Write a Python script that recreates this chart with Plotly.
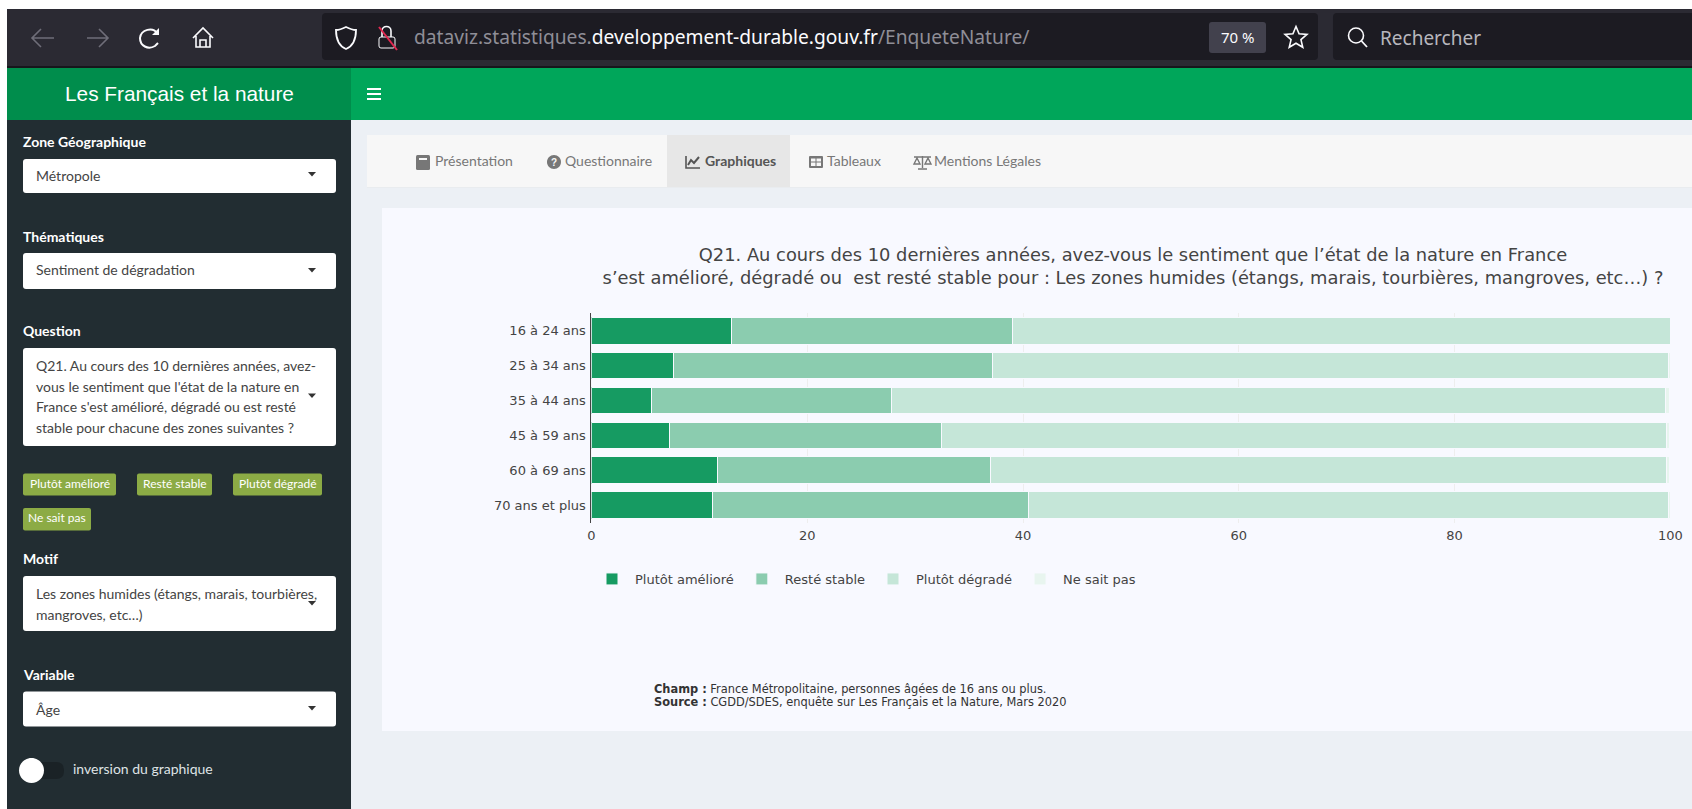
import math
import plotly.graph_objects as go

W, H = 1692, 809

# ---- data -------------------------------------------------------------
categories = ["16 à 24 ans", "25 à 34 ans", "35 à 44 ans", "45 à 59 ans", "60 à 69 ans", "70 ans et plus"]
plutot_ameliore = [13.0, 7.6, 5.6, 7.2, 11.7, 11.2]
reste_stable = [26.0, 29.6, 22.2, 25.2, 25.3, 29.3]
plutot_degrade = [61.0, 62.6, 71.7, 67.2, 62.6, 59.3]
ne_sait_pas = [0.0, 0.2, 0.4, 0.3, 0.3, 0.2]
series_names = ["Plutôt amélioré", "Resté stable", "Plutôt dégradé", "Ne sait pas"]
series_colors = ["#169B62", "#8BCCAF", "#C5E6D8", "#E8F5EF"]
x_ticks = [0, 20, 40, 60, 80, 100]

title_lines = [
    "Q21. Au cours des 10 dernières années, avez-vous le sentiment que l’état de la nature en France",
    "s’est amélioré, dégradé ou  est resté stable pour : Les zones humides (étangs, marais, tourbières, mangroves, etc…) ?",
]
footer_lines = [
    "<b>Champ :</b> France Métropolitaine, personnes âgées de 16 ans ou plus.",
    "<b>Source :</b> CGDD/SDES, enquête sur Les Français et la Nature, Mars 2020",
]

# ---- page furniture helpers ------------------------------------------
UI = "Lato"
shapes, notes = [], []


def fx(x):
    return x / W


def fy(y):
    return 1 - y / H


def rect(x0, y0, x1, y1, color, layer="below"):
    shapes.append(dict(type="rect", xref="paper", yref="paper", x0=fx(x0), x1=fx(x1), y0=fy(y0), y1=fy(y1),
                       fillcolor=color, line_width=0, layer=layer))


def path(cmds, fill=None, stroke=None, width=1.5):
    parts = []
    for c in cmds:
        if isinstance(c, str):
            parts.append(c)
        else:
            parts.append(f"{fx(c[0]):.6f},{fy(c[1]):.6f}")
    shapes.append(dict(type="path", xref="paper", yref="paper", path=" ".join(parts), fillcolor=fill or "rgba(0,0,0,0)",
                       line=dict(color=stroke or "rgba(0,0,0,0)", width=width if stroke else 0), layer="below"))


def rrect(x0, y0, x1, y1, r, fill, stroke=None):
    path(["M", (x0 + r, y0), "L", (x1 - r, y0), "Q", (x1, y0), (x1, y0 + r), "L", (x1, y1 - r), "Q", (x1, y1), (x1 - r, y1),
          "L", (x0 + r, y1), "Q", (x0, y1), (x0, y1 - r), "L", (x0, y0 + r), "Q", (x0, y0), (x0 + r, y0), "Z"], fill, stroke, 1)


def circle(cx, cy, r, fill=None, stroke=None, width=1.5):
    k = 0.5523 * r
    path(["M", (cx + r, cy), "C", (cx + r, cy + k), (cx + k, cy + r), (cx, cy + r), "C", (cx - k, cy + r), (cx - r, cy + k), (cx - r, cy),
          "C", (cx - r, cy - k), (cx - k, cy - r), (cx, cy - r), "C", (cx + k, cy - r), (cx + r, cy - k), (cx + r, cy), "Z"], fill, stroke, width)


def text(x, y, s, size, color, font=UI, anchor="left"):
    notes.append(dict(x=fx(x), y=fy(y - 1.3), xref="paper", yref="paper", text=s, showarrow=False, xanchor=anchor, yanchor="middle",
                      align="left", borderpad=0, font=dict(size=size, color=color, family=font)))


def caret(x, y):
    path(["M", (x - 4, y - 2), "L", (x + 4, y - 2), "L", (x, y + 2.5), "Z"], "#333333")


# ---- browser toolbar --------------------------------------------------
rect(7, 9, W, 67, "#2B2A33")
rect(7, 66, W, 68, "#17161c")
rrect(322, 13, 1318, 60, 4, "#1C1B22")
rrect(1333, 13, W + 6, 60, 4, "#1C1B22")
for x0, x1, d in [(32, 54, -1), (87, 108, 1)]:
    tip, tail = (x0, x1) if d < 0 else (x1, x0)
    path(["M", (tail, 38), "L", (tip, 38), "M", (tip - d * 9, 29), "L", (tip, 38), "L", (tip - d * 9, 47)], None, "#6f6e79", 1.6)
# reload
path(["M", (157, 33), "C", (153, 27), (141, 29), (140, 38), "C", (140, 46), (148, 50), (155, 46), "L", (158, 43)], None, "#fbfbfe", 2)
path(["M", (159, 28), "L", (159, 35), "L", (152, 35), "Z"], "#fbfbfe")
# home
path(["M", (193, 38), "L", (203, 28), "L", (213, 38), "M", (196, 36), "L", (196, 47), "L", (210, 47), "L", (210, 36),
      "M", (200, 47), "L", (200, 40), "L", (206, 40), "L", (206, 47)], None, "#fbfbfe", 1.6)
# shield
path(["M", (346, 27), "C", (350, 29), (353, 30), (356, 30), "C", (356, 40), (353, 46), (346, 49), "C", (339, 46), (336, 40), (336, 30),
      "C", (339, 30), (342, 29), (346, 27), "Z"], None, "#fbfbfe", 1.8)
# lock
rrect(379, 37, 395, 48, 2, None, "#fbfbfe")
path(["M", (382, 37), "L", (382, 31), "C", (382, 25), (391, 25), (391, 31), "L", (391, 37)], None, "#fbfbfe", 1.6)
path(["M", (379, 27), "L", (397, 50)], None, "#E22850", 2)
text(412.5, 38, ("<span style='color:#8f8e97'>dataviz.statistiques.</span>"
                 "<span style='color:#fbfbfe'>developpement-durable.gouv.fr</span>"
                 "<span style='color:#8f8e97'>/EnqueteNature/</span>"), 19.2, "#fbfbfe", "Noto Sans")
rrect(1209, 22, 1266, 53, 3, "#42414D")
text(1237.5, 38.5, "70 %", 15, "#fbfbfe", "Noto Sans", "center")
star = ["M"]
for i in range(10):
    r = 11.5 if i % 2 == 0 else 5.2
    a = -math.pi / 2 + i * math.pi / 5
    star += [(1296 + r * math.cos(a), 38 + r * math.sin(a))] + (["L"] if i < 9 else ["Z"])
path(star, None, "#fbfbfe", 1.6)
circle(1356, 35.5, 7.5, None, "#fbfbfe", 1.6)
path(["M", (1361.5, 41), "L", (1367, 47)], None, "#fbfbfe", 1.8)
text(1378.5, 39, "Rechercher", 19, "#b8b7bd", "Noto Sans")

# ---- dashboard header -------------------------------------------------
rect(7, 68, 351, 120, "#008D4C")
rect(351, 68, W, 120, "#00A65A")
text(179, 95, "Les Français et la nature", 20.8, "#ffffff", "Liberation Sans", "center")
for y in (89, 94, 99):
    rect(367, y - 1, 381, y + 1, "#ffffff")

# ---- sidebar ----------------------------------------------------------
rect(7, 120, 351, H, "#222D32")
rect(351, 120, W, H, "#ECF0F5")
LAB = "#ffffff"
INK = "#444444"
text(22, 143, "<b>Zone Géographique</b>", 14, LAB)
rrect(23, 159, 336, 193, 3, "#ffffff")
text(35, 177, "Métropole", 14, INK)
caret(312, 174)

text(22, 238, "<b>Thématiques</b>", 14, LAB)
rrect(23, 253, 336, 289, 3, "#ffffff")
text(35, 271, "Sentiment de dégradation", 14, INK)
caret(312, 270)

text(22, 332, "<b>Question</b>", 14, LAB)
rrect(23, 348, 336, 446, 3, "#ffffff")
for y, s in [(367, "Q21. Au cours des 10 dernières années, avez-"), (387.5, "vous le sentiment que l'état de la nature en"),
             (408, "France s'est amélioré, dégradé ou est resté"), (429, "stable pour chacune des zones suivantes ?")]:
    text(35, y, s, 14, INK)
caret(312, 395.5)

for x0, y0, x1, y1, s in [(23, 473.5, 116, 495.5, "Plutôt amélioré"), (137, 473.5, 212, 495.5, "Resté stable"),
                          (233, 473.5, 322, 495.5, "Plutôt dégradé"), (23, 508, 91, 530.5, "Ne sait pas")]:
    rrect(x0, y0, x1, y1, 2, "#8CAB45")
    text((x0 + x1) / 2, (y0 + y1) / 2, s, 12, "#ffffff", UI, "center")

text(22, 560, "<b>Motif</b>", 14, LAB)
rrect(23, 576, 336, 631, 3, "#ffffff")
text(35, 595, "Les zones humides (étangs, marais, tourbières,", 14, INK)
text(35, 616, "mangroves, etc…)", 14, INK)
caret(312, 603)

text(22, 676, "<b>Variable</b>", 14, LAB)
rrect(23, 691.5, 336, 726.5, 3, "#ffffff")
text(35, 710.5, "Âge", 14, INK)
caret(312, 708)

rrect(24, 762, 64, 779, 8, "#1A2226")
circle(31.5, 770.5, 12.5, "#ffffff")
text(72, 770, "inversion du graphique", 14, "#dfe3e5")

# ---- tabs -------------------------------------------------------------
rect(367, 135, W, 187, "#F7F7F7")
rect(367, 187, W, 188, "#E9ECEF")
rect(667, 135, 790, 187, "#E7E7E7")
TAB = "#777777"
TAB_ON = "#555555"
text(434, 162, "Présentation", 14, TAB)
text(564, 162, "Questionnaire", 14, TAB)
text(704, 162, "<b>Graphiques</b>", 14, TAB_ON)
text(826, 162, "Tableaux", 14, TAB)
text(933, 162, "Mentions Légales", 14, TAB)
# book
rrect(416, 155, 430, 170, 1.5, "#777777")
rect(419, 158, 427, 160, "#F7F7F7")
# question circle
circle(554, 162, 7, "#777777")
text(554, 163.3, "<b>?</b>", 10, "#F7F7F7", "Liberation Sans", "center")
# chart
path(["M", (686, 156), "L", (686, 168), "L", (700, 168)], None, "#555555", 1.6)
path(["M", (688, 165), "L", (691, 160), "L", (694, 163), "L", (699, 157)], None, "#555555", 2)
# table
rrect(809, 156, 823, 168, 1, "#777777")
for x0, x1 in [(811, 815.5), (816.5, 821)]:
    for y0, y1 in [(158.5, 161.5), (162.5, 166)]:
        rect(x0, y0, x1, y1, "#F7F7F7")
# scales
path(["M", (922.5, 156), "L", (922.5, 168), "M", (918, 169), "L", (927, 169), "M", (914, 157), "L", (931, 157),
      "M", (917, 158), "L", (914, 164), "L", (920, 164), "Z", "M", (928, 158), "L", (925, 164), "L", (931, 164), "Z"], None, "#777777", 1.4)

# ---- chart card -------------------------------------------------------
rect(382, 208, W, 731, "#F8F9FF")

# ---- chart ------------------------------------------------------------
fig = go.Figure()
for name, vals, col in zip(series_names, [plutot_ameliore, reste_stable, plutot_degrade, ne_sait_pas], series_colors):
    fig.add_trace(go.Bar(y=categories, x=vals, name=name, orientation="h", marker=dict(color=col, line=dict(color="#F8F9FF", width=1))))

fig.update_layout(
    width=W, height=H, autosize=False, margin=dict(l=0, r=0, t=0, b=0, pad=0, autoexpand=False),
    paper_bgcolor="#ffffff", plot_bgcolor="rgba(0,0,0,0)", barmode="stack", bargap=0.235,
    font=dict(family="DejaVu Sans", size=13, color="#444444"),
    title=dict(text="<br>".join(title_lines), x=1133 / W, xanchor="center", xref="paper", y=fy(261), yanchor="top", yref="paper",
               font=dict(size=17.85, color="#444444", family="DejaVu Sans")),
    xaxis=dict(domain=[591.4 / W, 1670.4 / W], range=[0, 100], tickvals=x_ticks, showgrid=True, gridcolor="#EEEEEE", gridwidth=1,
               zeroline=False, ticks="", showline=False, fixedrange=True, ticklabelstandoff=3),
    yaxis=dict(domain=[fy(522.7), fy(313.3)], autorange="reversed", categoryorder="array", categoryarray=categories, showgrid=False,
               zeroline=False, showline=True, linecolor="#444444", linewidth=1, ticks="", ticklabelstandoff=2, fixedrange=True),
    legend=dict(orientation="h", x=589 / W, xanchor="left", y=fy(564), yanchor="top", traceorder="normal", bgcolor="rgba(0,0,0,0)",
                itemwidth=36, font=dict(size=13, color="#444444", family="DejaVu Sans")),
    shapes=shapes,
    annotations=notes + [dict(x=fx(653), y=fy(yy), xref="paper", yref="paper", text=s, showarrow=False, xanchor="left",
                              yanchor="middle", align="left", borderpad=0, font=dict(size=11.4, color="#333333", family="DejaVu Sans"))
                         for yy, s in zip((688.5, 701.5), footer_lines)],
)

fig.write_html("out.html", config=dict(displayModeBar=False),
               post_script="document.body.style.margin='0';document.documentElement.style.overflow='hidden';")
